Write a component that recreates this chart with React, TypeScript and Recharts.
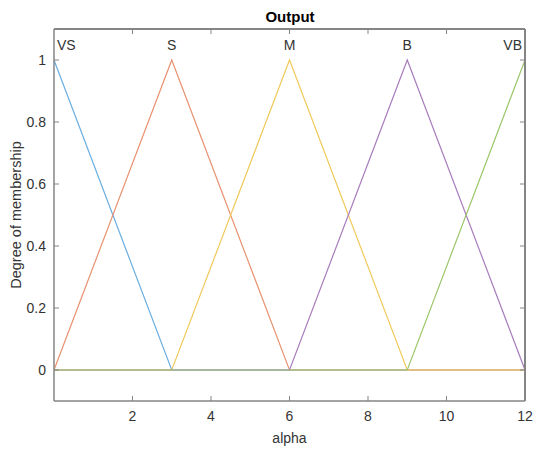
import React from 'react';
import { ComposedChart, Line, XAxis, YAxis, Scatter, Label } from 'recharts';

// Membership function breakpoints
const vsX = [0, 3, 12];
const vsY = [1, 0, 0];
const sX = [0, 3, 6, 12];
const sY = [0, 1, 0, 0];
const mX = [0, 3, 6, 9, 12];
const mY = [0, 0, 1, 0, 0];
const bX = [0, 6, 9, 12];
const bY = [0, 0, 1, 0];
const vbX = [0, 9, 12];
const vbY = [0, 0, 1];

const mfNames = ['VS', 'S', 'M', 'B', 'VB'];
const mfPeaks = [0, 3, 6, 9, 12];
const labelY = 1.05;

const xDomain = [0, 12];
const yDomain = [-0.1, 1.1];
const xTicks = [2, 4, 6, 8, 10, 12];
const yTicks = [0, 0.2, 0.4, 0.6, 0.8, 1];

const colors = ['#6aaee0', '#e8926f', '#f0c95a', '#a87cbc', '#9cc66a'];

const toPts = (xs: number[], ys: number[]) => xs.map((x, i) => ({ x, y: ys[i] }));

const series = [
  toPts(vsX, vsY),
  toPts(sX, sY),
  toPts(mX, mY),
  toPts(bX, bY),
  toPts(vbX, vbY),
];

const labelData = mfNames.map((name, i) => ({ x: mfPeaks[i], y: labelY, name }));

const FONT = 'Liberation Sans, Arial, Helvetica, sans-serif';
const AXIS = '#858585';
const TEXT = '#333333';

const LabelShape = (props: any) => {
  const { cx, cy, payload } = props;
  let anchor = 'middle';
  let dx = 0;
  if (payload.x === 0) { anchor = 'start'; dx = 3; }
  if (payload.x === 12) { anchor = 'end'; dx = -3; }
  return (
    <text x={cx + dx} y={cy} dy={5} textAnchor={anchor} fontFamily={FONT} fontSize={14} fill={TEXT}>
      {payload.name}
    </text>
  );
};

export default function App() {
  return (
    <div style={{ position: 'absolute', left: 0, top: 0, background: '#fff' }}>
      <ComposedChart width={550} height={454} margin={{ top: 28, right: 24, bottom: 0, left: 0 }}>
        <XAxis
          type="number"
          dataKey="x"
          domain={xDomain}
          ticks={xTicks}
          allowDataOverflow
          height={53}
          stroke={AXIS}
          axisLine={{ stroke: AXIS, strokeWidth: 1.5 }}
          tickSize={-5}
          tickMargin={15}
          tick={{ fill: TEXT, fontSize: 14, fontFamily: FONT }}
        >
          <Label value="alpha" position="insideBottom" offset={11} fill={TEXT} fontSize={14} fontFamily={FONT} />
        </XAxis>
        <XAxis
          xAxisId="top"
          orientation="top"
          type="number"
          dataKey="x"
          domain={xDomain}
          ticks={xTicks}
          allowDataOverflow
          height={1}
          stroke={AXIS}
          axisLine={{ stroke: AXIS, strokeWidth: 2 }}
          tickSize={-5}
          tickFormatter={() => ''}
        />
        <YAxis
          type="number"
          dataKey="y"
          domain={yDomain}
          ticks={yTicks}
          allowDataOverflow
          width={54}
          stroke={AXIS}
          axisLine={{ stroke: AXIS, strokeWidth: 1.5 }}
          tickSize={-5}
          tickMargin={13}
          tick={{ fill: TEXT, fontSize: 14, fontFamily: FONT }}
        >
          <Label value="Degree of membership" angle={-90} position="insideLeft" offset={16} style={{ textAnchor: 'middle' }} fill={TEXT} fontSize={14.5} fontFamily={FONT} />
        </YAxis>
        <YAxis
          yAxisId="right"
          orientation="right"
          type="number"
          dataKey="y"
          domain={yDomain}
          ticks={yTicks}
          allowDataOverflow
          width={1}
          stroke={AXIS}
          axisLine={{ stroke: AXIS, strokeWidth: 2 }}
          tickSize={-5}
          tickFormatter={() => ''}
        />
        {/* invisible series bound to the top/right axes so those axes get drawn */}
        <Line
          xAxisId="top"
          yAxisId="right"
          data={series[0]}
          dataKey="y"
          stroke="none"
          dot={false}
          activeDot={false}
          legendType="none"
          isAnimationActive={false}
        />
        {series.map((d, i) => (
          <Line
            key={mfNames[i]}
            data={d}
            dataKey="y"
            type="linear"
            stroke={colors[i]}
            strokeWidth={1.2}
            dot={false}
            activeDot={false}
            isAnimationActive={false}
          />
        ))}
        <Scatter data={labelData} dataKey="y" shape={LabelShape} isAnimationActive={false} />
        <text x={290} y={22} textAnchor="middle" fontFamily={FONT} fontSize={15} fontWeight="bold" fill="#000">
          Output
        </text>
      </ComposedChart>
    </div>
  );
}
